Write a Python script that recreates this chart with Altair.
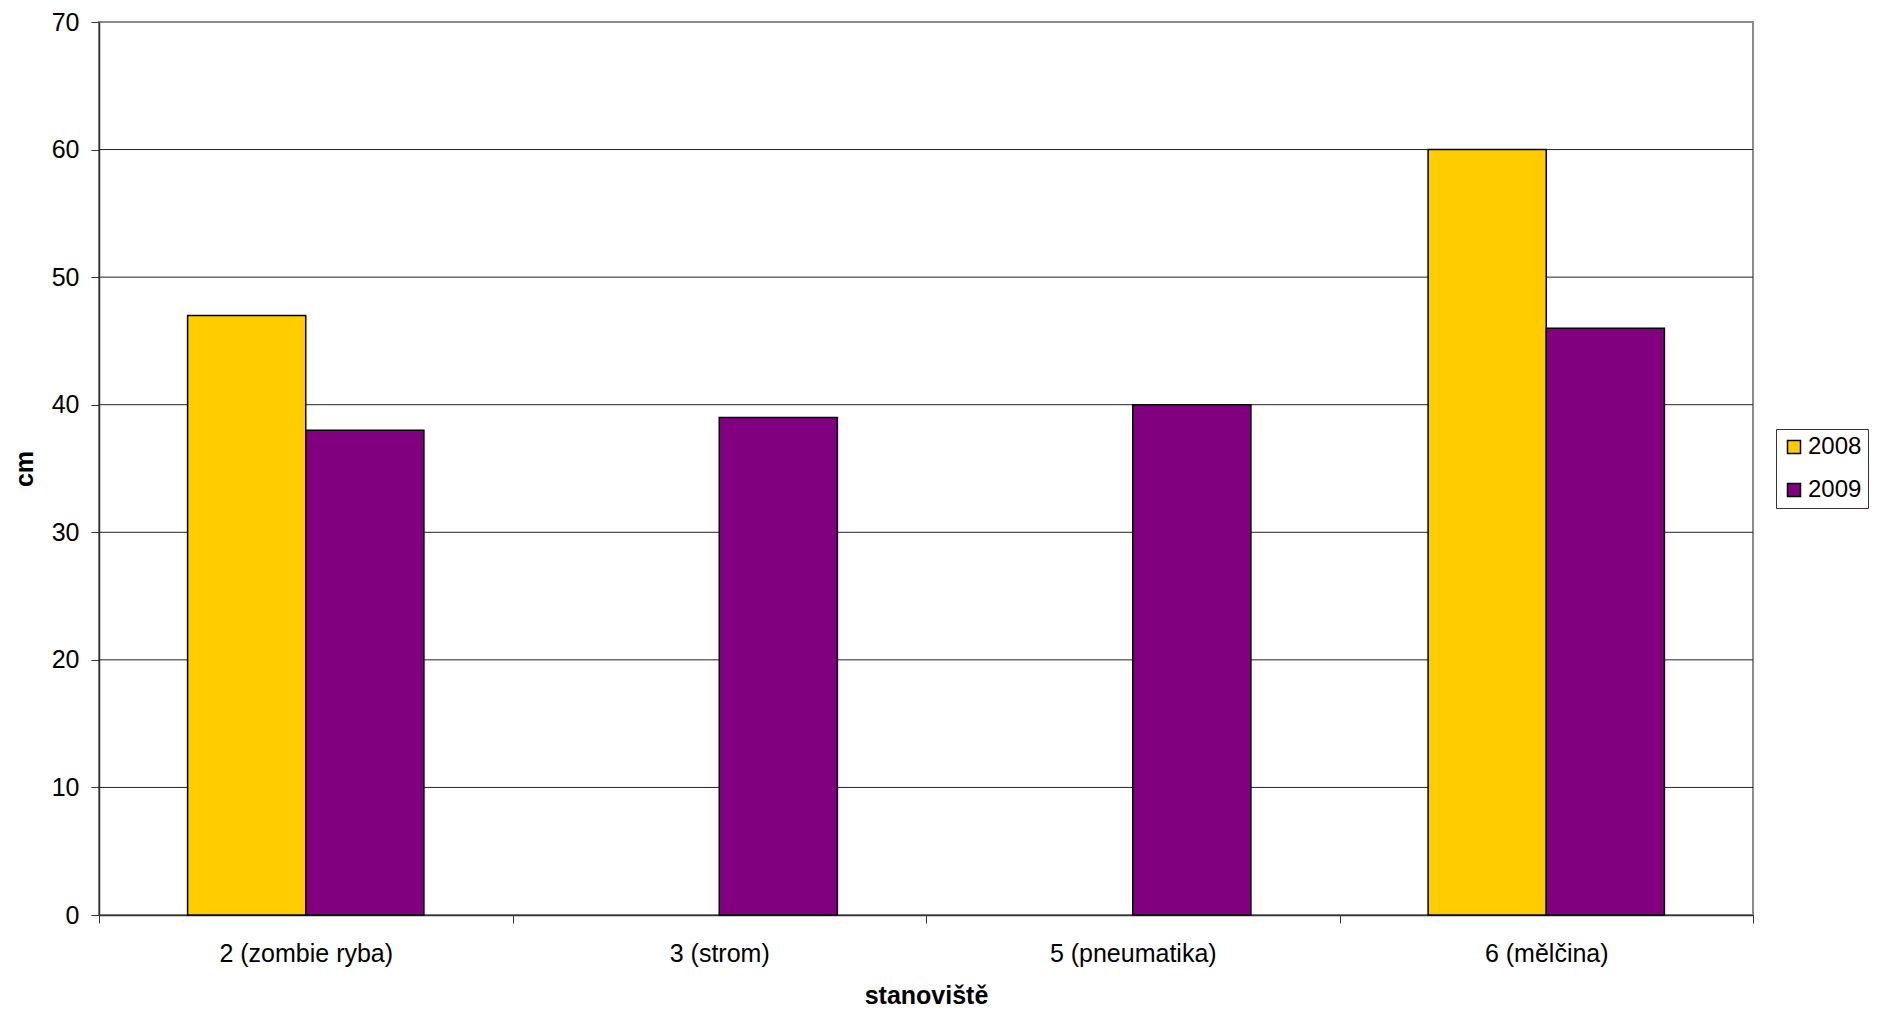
import altair as alt
import pandas as pd

categories = ["2 (zombie ryba)", "3 (strom)", "5 (pneumatika)", "6 (mělčina)"]
years = ["2008", "2009"]
values_2008 = [47, None, None, 60]
values_2009 = [38, 39, 40, 46]
y_ticks = [0, 10, 20, 30, 40, 50, 60, 70]
grid_lines = [10, 20, 30, 40, 50, 60]
colors = ["#FFCC00", "#800080"]

rows = []
for cat, v8, v9 in zip(categories, values_2008, values_2009):
    for yr, v in (("2008", v8), ("2009", v9)):
        if v is not None:
            rows.append({"site": cat, "year": yr, "cm": v})
df = pd.DataFrame(rows)
grid_df = pd.DataFrame({"g": grid_lines})

FONT = "Liberation Sans"
y_scale = alt.Scale(domain=[0, 70], nice=False, zero=True)

grid = alt.Chart(grid_df).mark_rule(color="#222222", strokeWidth=1).encode(
    y=alt.Y("g:Q", scale=y_scale, axis=None)
)

bars = alt.Chart(df).mark_bar(stroke="black", strokeWidth=1.5).encode(
    x=alt.X(
        "site:N",
        sort=categories,
        scale=alt.Scale(domain=categories, paddingInner=0, paddingOuter=0),
        axis=alt.Axis(
            title="stanoviště",
            labelAngle=0,
            labelFont=FONT,
            labelFontSize=25,
            labelColor="black",
            labelPadding=18,
            tickBand="extent",
            tickSize=8,
            tickColor="#333333",
            domainColor="#333333",
            domainWidth=1.5,
            titleFont=FONT,
            titleFontSize=25,
            titleFontWeight="bold",
            titleColor="black",
            titlePadding=17,
            grid=False,
        ),
    ),
    xOffset=alt.XOffset(
        "year:N",
        scale=alt.Scale(domain=years, paddingInner=0, paddingOuter=0.75),
    ),
    y=alt.Y(
        "cm:Q",
        scale=y_scale,
        axis=alt.Axis(
            title="cm",
            values=y_ticks,
            grid=False,
            labelFont=FONT,
            labelFontSize=25,
            labelColor="black",
            labelPadding=12,
            tickSize=8,
            tickColor="#333333",
            domainColor="#333333",
            domainWidth=1.5,
            titleFont=FONT,
            titleFontSize=25,
            titleFontWeight="bold",
            titleColor="black",
            titlePadding=14,
        ),
    ),
    color=alt.Color(
        "year:N",
        scale=alt.Scale(domain=years, range=colors),
        legend=alt.Legend(
            title=None,
            orient="none",
            legendX=1677,
            legendY=407,
            strokeColor="#333333",
            fillColor="white",
            padding=6,
            labelFont=FONT,
            labelFontSize=24,
            labelColor="black",
            labelOffset=2,
            symbolType="square",
            symbolSize=169,
            symbolStrokeColor="black",
            symbolStrokeWidth=1.5,
            rowPadding=19,
        ),
    ),
)

chart = (
    alt.layer(grid, bars)
    .resolve_axis(y="independent")
    .properties(
        width=1654,
        height=893,
        autosize=alt.AutoSizeParams(type="none"),
        padding={"left": 91, "top": 14, "right": 116, "bottom": 92},
    )
    .configure_view(stroke="#8c8c8c", strokeWidth=2)
)

chart.save("out.html", embed_options={"renderer": "svg", "actions": False})
